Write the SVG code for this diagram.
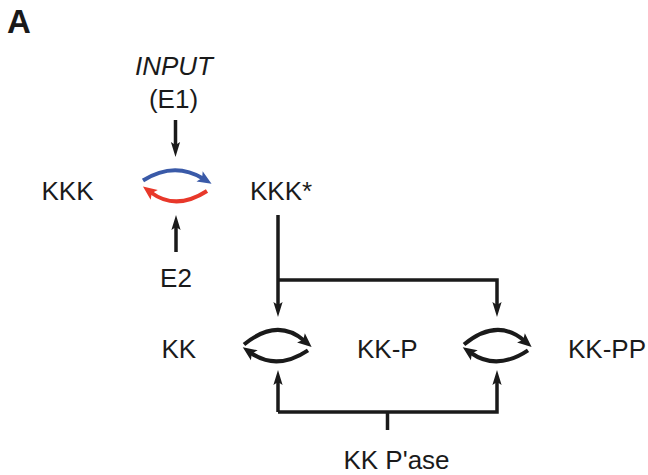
<svg xmlns="http://www.w3.org/2000/svg" width="648" height="475" viewBox="0 0 648 475">
<style>
text{font-family:"Liberation Sans",Arial,sans-serif;font-size:26px;fill:#1a1a1a}
.ln{fill:none;stroke:#1a1a1a;stroke-width:3.5}
.arc{fill:none;stroke:#1a1a1a;stroke-width:4}
.blue{stroke:#3a5aa8}
.red{stroke:#e8382a}
</style>
<defs>
<marker id="ah" markerUnits="userSpaceOnUse" markerWidth="20" markerHeight="12" viewBox="-6 -6 18 12" refX="0" refY="0" orient="auto" overflow="visible">
<path d="M10,0 L-5,-4.6 L-2,0 L-5,4.6 Z" fill="#1a1a1a"/>
</marker>
<marker id="ahk" markerUnits="userSpaceOnUse" markerWidth="20" markerHeight="14" viewBox="-6 -7 18 14" refX="0" refY="0" orient="auto" overflow="visible">
<path d="M10,0 L-4,-6 L-1,0 L-4,6 Z" fill="#1a1a1a"/>
</marker>
<marker id="ahb" markerUnits="userSpaceOnUse" markerWidth="20" markerHeight="14" viewBox="-6 -7 18 14" refX="0" refY="0" orient="auto" overflow="visible">
<path d="M10,0 L-4,-6 L-1,0 L-4,6 Z" fill="#3a5aa8"/>
</marker>
<marker id="ahr" markerUnits="userSpaceOnUse" markerWidth="20" markerHeight="14" viewBox="-6 -7 18 14" refX="0" refY="0" orient="auto" overflow="visible">
<path d="M10,0 L-4,-6 L-1,0 L-4,6 Z" fill="#e8382a"/>
</marker>
</defs>
<text x="7" y="33" style="font-weight:bold;font-size:33px">A</text>
<g id="input"><text x="174" y="75" text-anchor="middle" font-style="italic">INPUT</text><text x="173.5" y="108" text-anchor="middle">(E1)</text></g>
<g id="kkk"><text x="41.5" y="200">KKK</text></g>
<g id="kkkstar"><text x="250" y="200">KKK*</text></g>
<g id="e2"><text x="176" y="287" text-anchor="middle">E2</text></g>
<g id="kk"><text x="161.5" y="358">KK</text></g>
<g id="kkp"><text x="357" y="358">KK-P</text></g>
<g id="kkpp"><text x="568" y="358">KK-PP</text></g>
<g id="kkpase"><text x="396.5" y="469" text-anchor="middle">KK P'ase</text></g>
<g id="connectors">
<path class="ln" d="M175.5,120 V147" marker-end="url(#ah)"/>
<path class="ln" d="M176,252 V225" marker-end="url(#ah)"/>
<path class="arc blue" d="M143,180.5 Q174,161 203,178.5" marker-end="url(#ahb)"/>
<path class="arc red" d="M207,191 Q176,211 151,192.5" marker-end="url(#ahr)"/>
<path class="ln" d="M278,215 V307" marker-end="url(#ah)"/>
<path class="ln" d="M278,280 H497 V307" marker-end="url(#ah)"/>
<path class="arc" d="M244,344.5 Q277,317.5 304,340.5" marker-end="url(#ahk)"/>
<path class="arc" d="M308,350.3 Q277,371 251,353" marker-end="url(#ahk)"/>
<path class="arc" d="M464,344.5 Q497,317.5 524,340.5" marker-end="url(#ahk)"/>
<path class="arc" d="M528,350.3 Q497,371 471,353" marker-end="url(#ahk)"/>
<path class="ln" d="M278,412 V380" marker-end="url(#ah)"/>
<path class="ln" d="M278,412 H497 V380" marker-end="url(#ah)"/>
<path class="ln" d="M387.5,412 V430"/>
</g>
</svg>
